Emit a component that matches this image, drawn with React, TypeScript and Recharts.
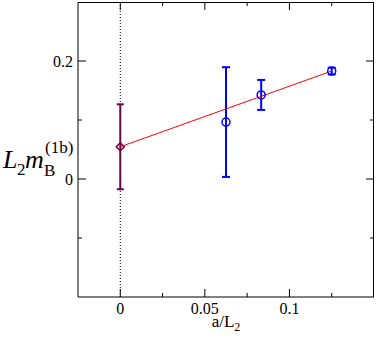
import React from 'react';
import { ComposedChart, Scatter, XAxis, YAxis, ErrorBar, ReferenceLine } from 'recharts';

// continuum-extrapolated point (a/L2 = 0)
const extrapX = [0];
const extrapY = [0.0546];
const extrapErr = [0.072];
// lattice data points
const latticeX = [0.0625, 0.0833, 0.125];
const latticeY = [0.0965, 0.1425, 0.183];
const latticeErr = [0.093, 0.0254, 0.0057];
// linear fit
const fitX = [0, 0.125];
const fitY = [0.0546, 0.183];
// axis ranges and ticks
const xDomain = [-0.025, 0.15];
const yDomain = [-0.2, 0.3];
const xMajorTicks = [0, 0.05, 0.1];
const xMinorTicks = [0.025, 0.075, 0.125];
const yMajorTicks = [0, 0.2];
const yMinorTicks = [-0.1, 0.1];

const extrapData = extrapX.map((x, i) => ({ x, y: extrapY[i], err: extrapErr[i] }));
const latticeData = latticeX.map((x, i) => ({ x, y: latticeY[i], err: latticeErr[i] }));
const fitData = fitX.map((x, i) => ({ x, y: fitY[i] }));

const FONT = '"Liberation Serif", "DejaVu Serif", serif';
const MAROON = '#670748';
const BLUE = '#0000ff';
const RED = '#ff0000';

const W = 376;
const H = 339;
const M = { top: 2, right: 2, bottom: 0, left: 0 };
const Y_AXIS_W = 78;
const X_AXIS_H = 42;
const PLOT_L = M.left + Y_AXIS_W;
const PLOT_T = M.top;
const PLOT_W = W - M.left - M.right - Y_AXIS_W;
const PLOT_H = H - M.top - M.bottom - X_AXIS_H;

const xTicks = [...xMajorTicks, ...xMinorTicks].sort((a, b) => a - b);
const yTicks = [...yMinorTicks, ...yMajorTicks].sort((a, b) => a - b);

const BottomTick = (p: any) => {
  const v = p.payload.value;
  const major = xMajorTicks.includes(v);
  const len = major ? 8 : 4;
  return (
    <g>
      <path d={`M${p.x},${p.y}V${p.y - len}M${p.x},${PLOT_T}V${PLOT_T + len}`} stroke="#000" strokeWidth={1} fill="none" />
      {major && (
        <text x={p.x} y={p.y + 17} textAnchor="middle" fontFamily={FONT} fontSize={16} fill="#000" stroke="none">
          {String(v)}
        </text>
      )}
    </g>
  );
};

const LeftTick = (p: any) => {
  const v = p.payload.value;
  const major = yMajorTicks.includes(v);
  const len = major ? 8 : 4;
  const right = PLOT_L + PLOT_W;
  return (
    <g>
      <path d={`M${p.x},${p.y}H${p.x + len}M${right},${p.y}H${right - len}`} stroke="#000" strokeWidth={1} fill="none" />
      {major && (
        <text x={p.x - 5} y={p.y} dy="0.35em" textAnchor="end" fontFamily={FONT} fontSize={16} fill="#000" stroke="none">
          {String(v)}
        </text>
      )}
    </g>
  );
};

const Diamond = (p: any) => {
  const { cx, cy } = p;
  const r = 4;
  return (
    <path
      d={`M${cx},${cy - r}L${cx + r},${cy}L${cx},${cy + r}L${cx - r},${cy}Z`}
      fill="none"
      stroke={MAROON}
      strokeWidth={1.5}
    />
  );
};

const Circle = (p: any) => <circle cx={p.cx} cy={p.cy} r={4} fill="none" stroke={BLUE} strokeWidth={1.5} />;

const Empty = () => <g />;

const YLabel = () => (
  <g fill="#000" fontFamily={FONT}>
    <text x={3} y={168} fontSize={26} fontStyle="italic">L</text>
    <text x={17} y={175} fontSize={17}>2</text>
    <text x={25} y={168} fontSize={26} fontStyle="italic">m</text>
    <text x={44} y={176} fontSize={17}>B</text>
    <text x={45} y={153} fontSize={17}>(1b)</text>
  </g>
);

const XLabel = (p: any) => {
  const vb = p.viewBox || { x: PLOT_L, width: PLOT_W };
  return (
    <text x={vb.x + vb.width / 2} y={327} textAnchor="middle" fontFamily={FONT} fontSize={17} fill="#000">
      <tspan>a/L</tspan>
      <tspan fontSize={12} dy={4}>2</tspan>
    </text>
  );
};

export default function App() {
  return (
    <div style={{ position: 'absolute', left: 0, top: 0, width: W, height: H }}>
      <ComposedChart width={W} height={H} margin={M}>
        <XAxis
          type="number"
          dataKey="x"
          domain={xDomain}
          allowDataOverflow
          ticks={xTicks}
          interval={0}
          tickSize={0}
          tickMargin={0}
          tickLine={false}
          axisLine={{ stroke: '#000' }}
          tick={<BottomTick />}
          height={X_AXIS_H}
          label={{ content: <XLabel /> }}
        />
        <YAxis
          type="number"
          dataKey="y"
          domain={yDomain}
          allowDataOverflow
          ticks={yTicks}
          interval={0}
          tickSize={0}
          tickMargin={0}
          tickLine={false}
          axisLine={{ stroke: '#000' }}
          tick={<LeftTick />}
          width={Y_AXIS_W}
          label={{ content: <YLabel /> }}
        />
        <ReferenceLine x={0} stroke="#000" strokeWidth={1} strokeDasharray="1 2" />
        <Scatter data={fitData} line={{ stroke: RED, strokeWidth: 1 }} shape={<Empty />} isAnimationActive={false} />
        <Scatter data={extrapData} shape={<Diamond />} isAnimationActive={false}>
          <ErrorBar dataKey="err" direction="y" width={3.5} stroke={MAROON} strokeWidth={2} isAnimationActive={false} />
        </Scatter>
        <Scatter data={latticeData} shape={<Circle />} isAnimationActive={false}>
          <ErrorBar dataKey="err" direction="y" width={4} stroke={BLUE} strokeWidth={2} isAnimationActive={false} />
        </Scatter>
      </ComposedChart>
      <div
        style={{
          position: 'absolute',
          left: PLOT_L - 0.5,
          top: PLOT_T - 0.5,
          width: PLOT_W,
          height: PLOT_H,
          borderTop: '1px solid #000',
          borderRight: '1px solid #000',
          boxSizing: 'border-box',
          pointerEvents: 'none',
        }}
      />
    </div>
  );
}
